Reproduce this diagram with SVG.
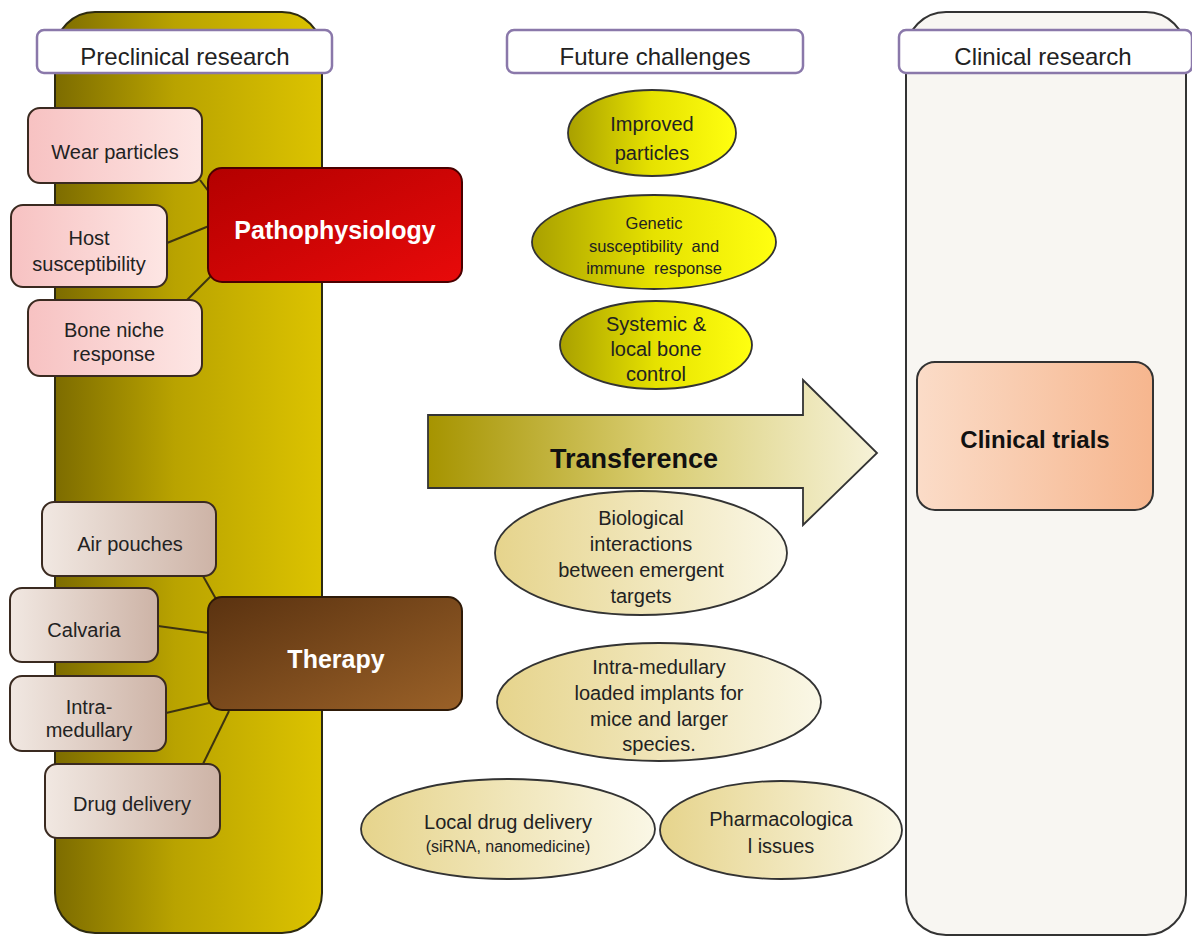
<svg xmlns="http://www.w3.org/2000/svg" width="1192" height="945" viewBox="0 0 1192 945">
<defs>
<linearGradient id="gCol" x1="0" y1="0" x2="1" y2="0"><stop offset="0" stop-color="#7d6c00"/><stop offset="0.45" stop-color="#b9a300"/><stop offset="1" stop-color="#dcc300"/></linearGradient>
<linearGradient id="gRed" x1="0" y1="0" x2="1" y2="1"><stop offset="0" stop-color="#b30000"/><stop offset="1" stop-color="#e80a0a"/></linearGradient>
<linearGradient id="gBrown" x1="0" y1="0" x2="1" y2="1"><stop offset="0" stop-color="#5a3210"/><stop offset="1" stop-color="#9a6128"/></linearGradient>
<linearGradient id="gPink" x1="0" y1="0" x2="1" y2="0"><stop offset="0" stop-color="#f7c2c2"/><stop offset="1" stop-color="#fde6e4"/></linearGradient>
<linearGradient id="gBeige" x1="0" y1="0" x2="1" y2="0"><stop offset="0" stop-color="#f1e8e2"/><stop offset="1" stop-color="#cdb3a6"/></linearGradient>
<linearGradient id="gYel" x1="0" y1="0" x2="1" y2="0"><stop offset="0" stop-color="#a9a000"/><stop offset="0.5" stop-color="#e6e200"/><stop offset="1" stop-color="#ffff10"/></linearGradient>
<linearGradient id="gPale" x1="0" y1="0" x2="1" y2="0"><stop offset="0" stop-color="#e6d48c"/><stop offset="1" stop-color="#faf7e6"/></linearGradient>
<linearGradient id="gArrow" x1="0" y1="0" x2="1" y2="0"><stop offset="0" stop-color="#a69400"/><stop offset="0.5" stop-color="#d8cc70"/><stop offset="1" stop-color="#f6f2d8"/></linearGradient>
<linearGradient id="gPeach" x1="0" y1="0" x2="1" y2="0"><stop offset="0" stop-color="#fbdcc8"/><stop offset="1" stop-color="#f6b68e"/></linearGradient>
<style>
.t{font-family:"Liberation Sans",Arial,sans-serif;fill:#222;text-anchor:middle;white-space:pre}
.hdr{fill:#fff;stroke:#8a78aa;stroke-width:2.5}
.box{stroke:#3a2a20;stroke-width:2}
.ell{stroke:#333;stroke-width:1.8}
.conn{stroke:#3d3310;stroke-width:2;fill:none}
</style>
</defs>
<rect width="1192" height="945" fill="#fff"/>
<g id="col-preclinical"><rect x="55" y="12" width="267" height="921" rx="40" fill="url(#gCol)" stroke="#2d2a10" stroke-width="2"/></g>
<g id="col-clinical"><rect x="906" y="12" width="280" height="923" rx="40" fill="#f8f6f2" stroke="#333" stroke-width="2"/></g>
<g id="hdr-preclinical"><rect class="hdr" x="37" y="30" width="295" height="43" rx="7"/><text class="t" x="185" y="65" font-size="24">Preclinical research</text></g>
<g id="hdr-future"><rect class="hdr" x="507" y="30" width="296" height="43" rx="7"/><text class="t" x="655" y="65" font-size="24">Future challenges</text></g>
<g id="hdr-clinical"><rect class="hdr" x="899" y="30" width="293" height="43" rx="7"/><text class="t" x="1043" y="65" font-size="24">Clinical research</text></g>
<g id="connectors">
<line class="conn" x1="200" y1="180" x2="209" y2="192"/>
<line class="conn" x1="167" y1="243" x2="209" y2="226"/>
<line class="conn" x1="187" y1="300" x2="211" y2="276"/>
<line class="conn" x1="203" y1="576" x2="216" y2="599"/>
<line class="conn" x1="158" y1="626" x2="209" y2="633"/>
<line class="conn" x1="166" y1="713" x2="209" y2="703"/>
<line class="conn" x1="203" y1="764" x2="229" y2="711"/>
</g>
<g id="n-wear"><rect class="box" x="28" y="108" width="174" height="75" rx="12" fill="url(#gPink)"/><text class="t" x="115" y="159" font-size="20">Wear particles</text></g>
<g id="n-host"><rect class="box" x="11" y="205" width="156" height="82" rx="12" fill="url(#gPink)"/><text class="t" x="89" y="245" font-size="20">Host</text><text class="t" x="89" y="271" font-size="20">susceptibility</text></g>
<g id="n-bone"><rect class="box" x="28" y="300" width="174" height="76" rx="12" fill="url(#gPink)"/><text class="t" x="114" y="337" font-size="20">Bone niche</text><text class="t" x="114" y="361" font-size="20">response</text></g>
<g id="n-patho"><rect x="208" y="168" width="254" height="114" rx="14" fill="url(#gRed)" stroke="#4a0000" stroke-width="2"/><text class="t" x="335" y="239" font-size="25" font-weight="bold" style="fill:#fff">Pathophysiology</text></g>
<g id="n-air"><rect class="box" x="42" y="502" width="174" height="74" rx="12" fill="url(#gBeige)"/><text class="t" x="130" y="551" font-size="20">Air pouches</text></g>
<g id="n-calvaria"><rect class="box" x="10" y="588" width="148" height="74" rx="12" fill="url(#gBeige)"/><text class="t" x="84" y="637" font-size="20">Calvaria</text></g>
<g id="n-intra"><rect class="box" x="10" y="676" width="156" height="75" rx="12" fill="url(#gBeige)"/><text class="t" x="89" y="714" font-size="20">Intra-</text><text class="t" x="89" y="737" font-size="20">medullary</text></g>
<g id="n-drug"><rect class="box" x="45" y="764" width="175" height="74" rx="12" fill="url(#gBeige)"/><text class="t" x="132" y="811" font-size="20">Drug delivery</text></g>
<g id="n-therapy"><rect x="208" y="597" width="254" height="113" rx="14" fill="url(#gBrown)" stroke="#2e1a08" stroke-width="2"/><text class="t" x="336" y="668" font-size="25" font-weight="bold" style="fill:#fff">Therapy</text></g>
<g id="e-improved"><ellipse class="ell" cx="652" cy="133" rx="84" ry="43" fill="url(#gYel)"/><text class="t" x="652" y="131" font-size="20">Improved</text><text class="t" x="652" y="160" font-size="20">particles</text></g>
<g id="e-genetic"><ellipse class="ell" cx="654" cy="242" rx="122" ry="47" fill="url(#gYel)"/><text class="t" x="654" y="229" font-size="16.5">Genetic</text><text class="t" x="654" y="252" font-size="16.5">susceptibility  and</text><text class="t" x="654" y="274" font-size="16.5">immune  response</text></g>
<g id="e-systemic"><ellipse class="ell" cx="656" cy="345" rx="96" ry="44" fill="url(#gYel)"/><text class="t" x="656" y="331" font-size="20">Systemic &amp;</text><text class="t" x="656" y="356" font-size="20">local bone</text><text class="t" x="656" y="381" font-size="20">control</text></g>
<g id="arrow-transference"><path d="M428,415 L803,415 L803,380 L877,453 L803,525 L803,488 L428,488 Z" fill="url(#gArrow)" stroke="#333" stroke-width="1.8"/><text class="t" x="634" y="468" font-size="27" font-weight="bold" style="fill:#111">Transference</text></g>
<g id="n-trials"><rect x="917" y="362" width="236" height="148" rx="18" fill="url(#gPeach)" stroke="#333" stroke-width="2"/><text class="t" x="1035" y="448" font-size="24" font-weight="bold" style="fill:#111">Clinical trials</text></g>
<g id="e-bio"><ellipse class="ell" cx="641" cy="553" rx="146" ry="62" fill="url(#gPale)"/><text class="t" x="641" y="525" font-size="20">Biological</text><text class="t" x="641" y="551" font-size="20">interactions</text><text class="t" x="641" y="577" font-size="20">between emergent</text><text class="t" x="641" y="603" font-size="20">targets</text></g>
<g id="e-intra"><ellipse class="ell" cx="659" cy="702" rx="162" ry="59" fill="url(#gPale)"/><text class="t" x="659" y="674" font-size="20">Intra-medullary</text><text class="t" x="659" y="700" font-size="20">loaded implants for</text><text class="t" x="659" y="726" font-size="20">mice and larger</text><text class="t" x="659" y="751" font-size="20">species.</text></g>
<g id="e-local"><ellipse class="ell" cx="508" cy="829" rx="147" ry="50" fill="url(#gPale)"/><text class="t" x="508" y="829" font-size="20">Local drug delivery</text><text class="t" x="508" y="852" font-size="16">(siRNA, nanomedicine)</text></g>
<g id="e-pharma"><ellipse class="ell" cx="781" cy="830" rx="121" ry="49" fill="url(#gPale)"/><text class="t" x="781" y="826" font-size="20">Pharmacologica</text><text class="t" x="781" y="853" font-size="20">l issues</text></g>
</svg>
